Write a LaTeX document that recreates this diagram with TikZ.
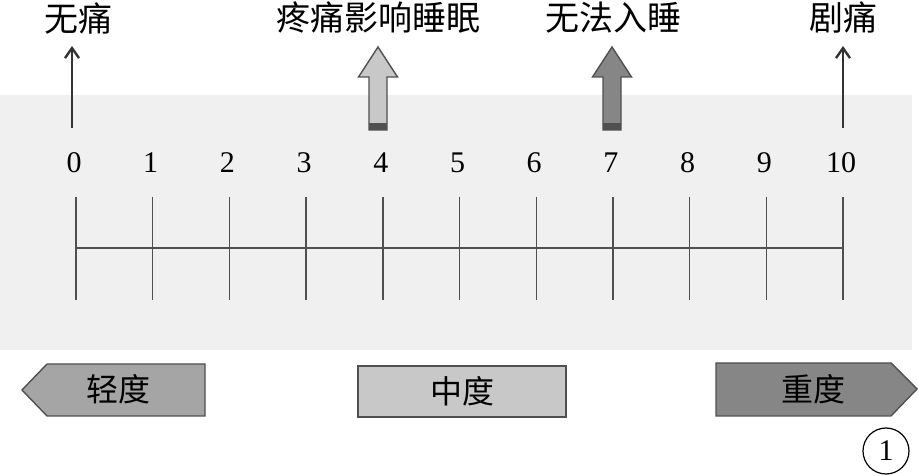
\documentclass[tikz,border=0pt]{standalone}
\usepackage{fontspec}
\setmainfont{Liberation Serif}
\newfontfamily\cjk{Noto Sans CJK SC}
\usetikzlibrary{arrows.meta}
\definecolor{bandgray}{HTML}{F0F0F0}
\definecolor{linegray}{HTML}{505050}
\definecolor{lightfill}{HTML}{C8C8C8}
\definecolor{midfill}{HTML}{A5A5A5}
\definecolor{darkfill}{HTML}{868686}
\begin{document}
\begin{tikzpicture}[x=1pt, y=1pt, >={Straight Barb[length=10pt,width=14pt,line width=2.4pt]}]
\tikzset{
  numlabel/.style={font=\fontsize{30}{30}\selectfont, inner sep=0pt},
  toplabel/.style={font=\cjk\fontsize{34}{34}\selectfont, inner sep=0pt},
  boxlabel/.style={font=\cjk\fontsize{32}{32}\selectfont, inner sep=0pt},
  tickline/.style={draw=linegray, line width=1.4pt},
  bigarrow/.style={draw=linegray, line width=1.4pt, line join=miter}
}
\useasboundingbox (0,0) rectangle (918,476);
% vùng nền xám
\fill[bandgray] (0,126) rectangle (912,381);
% trục và các vạch chia
\coordinate (s0) at (76,228);
\coordinate (s10) at (843,228);
\draw[tickline] (s0) -- (s10);
\foreach \i in {0,...,10}
{
\coordinate (t\i) at ({76+76.7*\i},228);
\draw[tickline] ([yshift=-52pt]t\i) -- ([yshift=51pt]t\i);
\node[numlabel] (n\i) at ([xshift=-2pt,yshift=85pt]t\i) {\i};
}
% nhãn phía trên
\node[toplabel] (wt) at (78,458) {无痛};
\node[toplabel] (yx) at (378,458) {疼痛影响睡眠};
\node[toplabel] (wf) at (613,458) {无法入睡};
\node[toplabel] (jt) at (843,458) {剧痛};
% mũi tên mảnh
\coordinate (a0) at (72,348);
\coordinate (a0e) at (72,430);
\coordinate (a10) at (843,348);
\coordinate (a10e) at (843,430);
\draw[->, draw=black!80, line width=2.4pt] (a0) -- (a0e);
\draw[->, draw=black!80, line width=2.4pt] (a10) -- (a10e);
% mũi tên khối
\foreach \x/\c in {378/lightfill, 612/darkfill}
{
\draw[bigarrow, fill=\c] (\x-9,346) -- (\x-9,399) -- (\x-19.5,399) -- (\x,429)
  -- (\x+19.5,399) -- (\x+9,399) -- (\x+9,346) -- cycle;
\fill[linegray] (\x-9,346) rectangle (\x+9,353);
}
% các mức độ
\draw[bigarrow, fill=midfill] (22,86) -- (47,112) -- (205,112) -- (205,60) -- (47,60) -- cycle;
\node[boxlabel] (qd) at (118,87) {轻度};
\draw[bigarrow, fill=lightfill] (358,59) rectangle (566,110);
\node[boxlabel] (zd) at (462,85) {中度};
\draw[bigarrow, fill=darkfill] (716,113) -- (891,113) -- (917,87) -- (891,60) -- (716,60) -- cycle;
\node[boxlabel] (sd) at (813,87) {重度};
% số thứ tự
\node[draw, circle, line width=1.2pt, minimum size=46pt, inner sep=0pt,
  font=\fontsize{30}{30}\selectfont] (no) at (886,25) {1};
\end{tikzpicture}
\end{document}
